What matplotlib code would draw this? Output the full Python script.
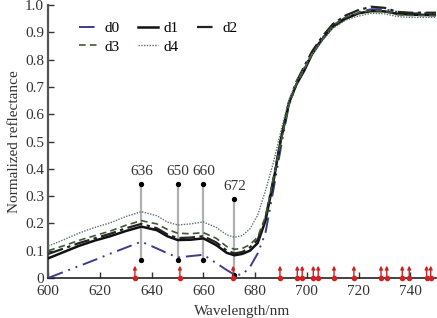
import matplotlib
matplotlib.use("Agg")
import matplotlib.pyplot as plt

plt.rcParams['font.family'] = ['Liberation Serif', 'DejaVu Serif']

# wavelength samples (nm)
wl = [600, 606, 612, 618, 624, 630, 636, 642, 646, 650, 655, 660, 665, 669, 672,
      675, 678, 681, 684, 687, 690, 693, 696, 699, 702, 706, 710, 715, 720, 725,
      730, 735, 740, 745, 750]

d0 = [0.000, 0.022, 0.044, 0.066, 0.089, 0.111, 0.133, 0.108, 0.091, 0.075, 0.080, 0.085, 0.054, 0.029, 0.012,
      0.012, 0.040, 0.090, 0.165, 0.320, 0.480, 0.630, 0.710, 0.770, 0.825, 0.880, 0.925, 0.955, 0.975, 0.985,
      0.985, 0.975, 0.970, 0.970, 0.970]
d1 = [0.072, 0.095, 0.118, 0.137, 0.153, 0.172, 0.188, 0.175, 0.153, 0.139, 0.140, 0.145, 0.120, 0.092, 0.083,
      0.088, 0.100, 0.128, 0.210, 0.350, 0.510, 0.640, 0.710, 0.760, 0.820, 0.875, 0.920, 0.950, 0.970, 0.978,
      0.977, 0.968, 0.965, 0.964, 0.963]
d2 = [0.088, 0.108, 0.128, 0.145, 0.162, 0.182, 0.198, 0.182, 0.160, 0.146, 0.148, 0.153, 0.130, 0.100, 0.090,
      0.095, 0.112, 0.140, 0.220, 0.360, 0.510, 0.640, 0.720, 0.775, 0.830, 0.885, 0.930, 0.962, 0.982, 0.994,
      0.990, 0.975, 0.972, 0.972, 0.972]
d3 = [0.100, 0.118, 0.138, 0.155, 0.172, 0.193, 0.210, 0.198, 0.178, 0.164, 0.162, 0.166, 0.145, 0.115, 0.105,
      0.108, 0.122, 0.150, 0.225, 0.360, 0.500, 0.630, 0.710, 0.765, 0.820, 0.875, 0.925, 0.955, 0.972, 0.980,
      0.978, 0.965, 0.962, 0.962, 0.962]
d4 = [0.117, 0.140, 0.165, 0.185, 0.202, 0.225, 0.243, 0.228, 0.205, 0.194, 0.198, 0.205, 0.185, 0.158, 0.149,
      0.155, 0.180, 0.230, 0.320, 0.420, 0.540, 0.650, 0.720, 0.770, 0.820, 0.870, 0.915, 0.945, 0.960, 0.970,
      0.968, 0.958, 0.955, 0.955, 0.955]

# characteristic wavelengths marked with gray lines
feat_wl = [636, 650, 660, 672]
feat_lo = [0.066, 0.066, 0.066, 0.010]
feat_hi = [0.344, 0.344, 0.344, 0.290]
feat_lab = ['636', '650', '660', '672']

# selected bands (red arrows)
sel_wl = [633.5, 650.9, 671.5, 689.6, 696.3, 698.2, 702.5, 704.4, 710.5, 718.2,
          728.7, 730.9, 736.9, 739.6, 746.3, 747.9]
arrow_h = 0.045

fig = plt.figure(figsize=(4.37, 3.18), dpi=100)
ax = fig.add_axes([0.1105, 0.126, 0.8875, 0.858])

# gray feature lines
for x, lo, hi, lab in zip(feat_wl, feat_lo, feat_hi, feat_lab):
    ax.plot([x, x], [lo, hi], color='#b0b0b0', lw=1.6, zorder=1)
    ax.plot([x, x], [lo, hi], 'o', color='black', ms=2.8, zorder=4)
    ax.text(x, hi + 0.022, lab, ha='center', va='bottom', fontsize=11, color='#333333')

l0, = ax.plot(wl, d0, color='#3c3c8c', lw=1.4, dashes=(8, 3, 1, 3, 1, 3), label='d0', zorder=3)
l1, = ax.plot(wl, d1, color='#111111', lw=1.8, label='d1', zorder=3)
l2, = ax.plot(wl, d2, color='#222222', lw=1.6, dashes=(7, 2, 1.5, 2), label='d2', zorder=3)
l3, = ax.plot(wl, d3, color='#3d5a30', lw=1.2, dashes=(4, 2.5), label='d3', zorder=3)
l4, = ax.plot(wl, d4, color='#5a7268', lw=1.0, dashes=(1, 1), label='d4', zorder=3)

# red arrows
for x in sel_wl:
    ax.annotate('', xy=(x, arrow_h), xytext=(x, 0.0),
                arrowprops=dict(arrowstyle='-|>', color='#d42020', lw=1.0,
                                mutation_scale=5, shrinkA=0, shrinkB=0),
                zorder=5)
ax.plot(sel_wl, [0.0] * len(sel_wl), 'o', color='#d42020', ms=3, zorder=5, clip_on=False)

ax.set_xlim(600, 750)
ax.set_ylim(0, 1.0)
ax.set_xticks([600, 620, 640, 660, 680, 700, 720, 740])
ax.set_yticks([0, 0.1, 0.2, 0.3, 0.4, 0.5, 0.6, 0.7, 0.8, 0.9, 1.0])
ax.set_yticklabels(['0', '0.1', '0.2', '0.3', '0.4', '0.5', '0.6', '0.7', '0.8', '0.9', '1.0'])
ax.tick_params(direction='in', length=4, width=1, labelsize=11, colors='#333333')
ax.tick_params(axis='x', pad=5)
ax.tick_params(axis='y', pad=3)
for s in ['top', 'right']:
    ax.spines[s].set_visible(False)
ax.spines['left'].set_color('#555555')
ax.spines['left'].set_linewidth(1.6)
ax.spines['bottom'].set_color('#222222')
ax.spines['bottom'].set_linewidth(1.2)

ax.set_xlabel('Wavelength/nm', fontsize=11, color='#333333', labelpad=5)
ax.set_ylabel('Normalized reflectance', fontsize=11, color='#333333', labelpad=3)

# row order d0 d1 d2 / d3 d4 (legend fills column-wise)
ax.legend([l0, l3, l1, l4, l2], ['d0', 'd3', 'd1', 'd4', 'd2'],
          loc='upper left', bbox_to_anchor=(0.045, 0.99), ncol=3, frameon=False,
          fontsize=11, handlelength=1.3, handletextpad=0.35, columnspacing=1.2,
          labelspacing=0.3)

fig.savefig('out.png', dpi=100)
